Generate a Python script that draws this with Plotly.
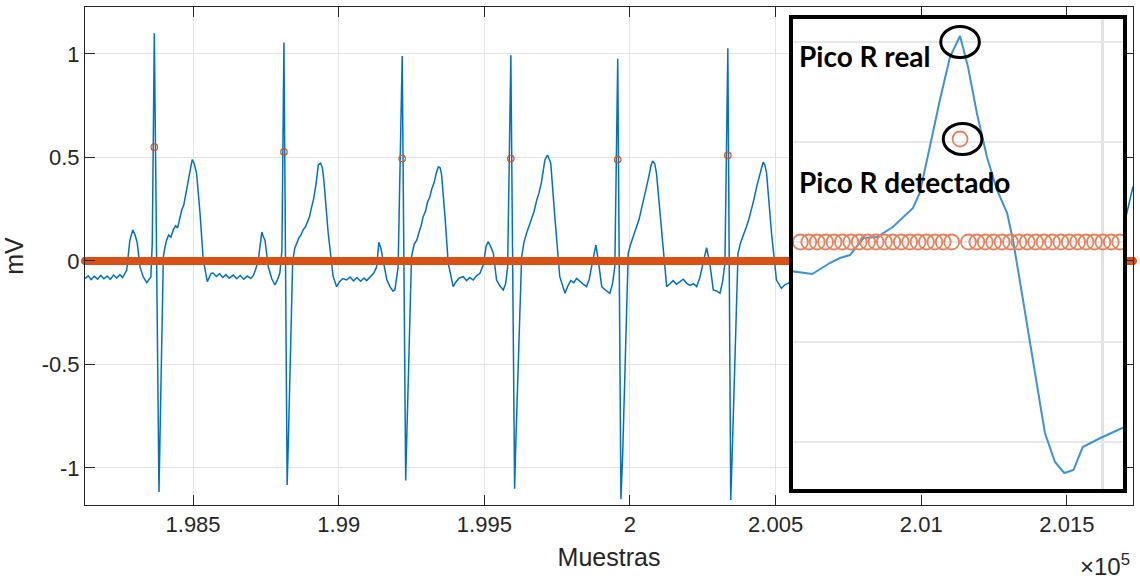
import numpy as np
import plotly.graph_objects as go

# ---------------------------------------------------------------- data
# ECG trace: sample index and amplitude (mV); one wave segment per line
ecg_samples = [
    198129, 198140, 198150, 198161, 198172, 198183, 198194, 198205, 198216, 198227, 198238, 198249, 198258, 198266,
    198272, 198283, 198293, 198301, 198308, 198318, 198329, 198341, 198355, 198360, 198367, 198383, 198386, 198398,
    198404, 198409, 198416, 198424, 198432, 198440, 198447, 198455, 198461, 198468, 198476, 198484, 198490, 198497, 198504, 198512, 198524, 198535, 198549,
    198556, 198562, 198569, 198580, 198591, 198602, 198613, 198624, 198638, 198650, 198662, 198674, 198686, 198698, 198707, 198715,
    198724, 198736, 198742, 198747, 198758, 198770, 198781, 198790, 198798, 198805, 198812, 198823, 198827, 198842,
    198849, 198856, 198863, 198870, 198878, 198886, 198893, 198900, 198907, 198914, 198922, 198930, 198938, 198944, 198949, 198964, 198981, 198993,
    199003, 199014, 199027, 199039, 199051, 199063, 199075, 199087, 199096, 199108, 199120,
    199130, 199138, 199145, 199153, 199165, 199176, 199186, 199193, 199204, 199218, 199230, 199233, 199250,
    199259, 199268, 199276, 199283, 199290, 199298, 199305, 199313, 199320, 199328, 199335, 199342, 199348, 199353, 199365, 199376, 199393,
    199403, 199414, 199428, 199439, 199450, 199462, 199473, 199485, 199496,
    199506, 199513, 199520, 199531, 199542, 199553, 199565, 199573, 199580, 199591, 199604, 199607, 199628,
    199636, 199645, 199653, 199662, 199671, 199680, 199688, 199696, 199702, 199708, 199717, 199728, 199742, 199759, 199777,
    199787, 199797, 199807, 199817, 199828, 199839, 199851, 199860, 199868,
    199883, 199891, 199903, 199915, 199931, 199940, 199948, 199958, 199969, 199975, 199994,
    200002, 200010, 200017, 200023, 200031, 200040, 200048, 200057, 200065, 200072, 200078, 200085, 200091, 200109, 200126,
    200137, 200148, 200160, 200171, 200183, 200195, 200206, 200218, 200229, 200240,
    200251, 200263, 200274, 200286, 200297, 200309, 200318, 200326, 200336, 200346, 200351, 200371,
    200379, 200387, 200394, 200400, 200408, 200418, 200426, 200435, 200443, 200450, 200457, 200463, 200469, 200486, 200503, 200520,
    200532, 200543, 200555, 200566,
    201699, 201727,
]
ecg_mv = [
    -0.085, -0.072, -0.090, -0.074, -0.088, -0.070, -0.086, -0.073, -0.089, -0.068, -0.082, -0.066, -0.080, -0.060,
    -0.045, 0.100, 0.150, 0.125, 0.090, -0.030, -0.077, -0.105, -0.077, 0.087, 1.100, -1.116, -0.913, 0.020,
    0.070, 0.100, 0.125, 0.115, 0.150, 0.170, 0.160, 0.215, 0.246, 0.270, 0.330, 0.390, 0.440, 0.490, 0.470, 0.425, 0.230, 0.005, -0.100,
    -0.082, -0.060, -0.058, -0.075, -0.062, -0.080, -0.066, -0.083, -0.068, -0.086, -0.070, -0.088, -0.073, -0.085, -0.070, -0.040,
    0.005, 0.140, 0.115, 0.100, -0.027, -0.085, -0.116, -0.090, -0.058, 0.050, 1.055, -1.082, -0.880, 0.000,
    0.060, 0.085, 0.110, 0.125, 0.150, 0.165, 0.190, 0.215, 0.260, 0.300, 0.370, 0.464, 0.472, 0.450, 0.390, 0.134, -0.076, -0.124,
    -0.100, -0.085, -0.092, -0.078, -0.096, -0.080, -0.098, -0.082, -0.095, -0.075, -0.060,
    -0.030, 0.090, 0.060, 0.005, -0.090, -0.124, -0.145, -0.140, -0.030, 0.990, -1.060, -0.890, 0.020,
    0.080, 0.100, 0.140, 0.170, 0.214, 0.240, 0.285, 0.310, 0.350, 0.380, 0.425, 0.455, 0.450, 0.420, 0.214, -0.010, -0.124,
    -0.100, -0.082, -0.076, -0.095, -0.080, -0.092, -0.072, -0.060, -0.020,
    0.070, 0.093, 0.075, 0.037, -0.092, -0.120, -0.140, -0.110, -0.030, 0.994, -1.100, -0.930, 0.020,
    0.090, 0.134, 0.170, 0.205, 0.240, 0.295, 0.330, 0.380, 0.430, 0.488, 0.512, 0.472, 0.214, -0.076, -0.156,
    -0.120, -0.095, -0.105, -0.084, -0.100, -0.112, -0.124, -0.090, -0.028,
    0.077, 0.005, -0.124, -0.140, -0.156, -0.110, -0.028, 0.977, -1.151, -0.930, 0.037,
    0.080, 0.110, 0.145, 0.166, 0.200, 0.250, 0.300, 0.359, 0.410, 0.460, 0.483, 0.470, 0.424, 0.134, -0.124,
    -0.110, -0.095, -0.112, -0.100, -0.088, -0.108, -0.118, -0.110, -0.124, -0.080,
    -0.011, 0.064, -0.011, -0.140, -0.145, -0.156, -0.100, -0.011, 1.028, -1.155, -0.930, 0.037,
    0.085, 0.120, 0.150, 0.166, 0.200, 0.250, 0.300, 0.359, 0.405, 0.450, 0.477, 0.465, 0.424, 0.134, -0.092, -0.132,
    -0.115, -0.108, -0.095, -0.100,
    0.190, 0.360,
]

# R-peak detector: detected positions and the value it reports there
r_samples = [198367, 198812, 199218, 199591, 199958, 200336]
r_detected_mv = [0.550, 0.527, 0.495, 0.495, 0.490, 0.510]
sample_start, sample_end = 198129, 201727

# Close-up of one beat (offset in samples from the R peak, mV)
zoom_offsets = [-20.2, -17.6, -15.5, -14.3, -13.1, -11.5, -9.9, -8.0, -5.6, -4.8, -3.6, -2.4,
                -1.2, 0.0, 0.95, 2.0, 3.2, 4.4, 5.6, 6.3, 7.1, 8.3, 10.1, 11.3, 12.4, 13.5,
                14.6, 16.7, 19.3, 19.8]
zoom_mv = [-0.145, -0.160, -0.105, -0.080, -0.065, 0.020, 0.025, 0.075, 0.170, 0.245, 0.475,
           0.710, 0.925, 1.030, 0.875, 0.645, 0.425, 0.260, 0.145, 0.010, -0.190, -0.505,
           -0.955, -1.100, -1.155, -1.140, -1.025, -0.980, -0.930, -0.925]
zoom_det_offsets = list(range(-19, 20))
zoom_det_peak_mv = 0.515

x_tick_vals = [198500, 199000, 199500, 200000, 200500, 201000, 201500]
x_tick_text = ["1.985", "1.99", "1.995", "2", "2.005", "2.01", "2.015"]
y_tick_vals = [-1, -0.5, 0, 0.5, 1]
y_tick_text = ["-1", "-0.5", "0", "0.5", "1"]

# ------------------------------------------------------------ series
det_x = np.arange(sample_start, sample_end + 1)
det_y = np.zeros(det_x.size)
det_y[np.array(r_samples) - sample_start] = r_detected_mv

zoom_det_y = [zoom_det_peak_mv if k == 0 else 0.0 for k in zoom_det_offsets]

BLUE = "#0072BD"
ORANGE = "#D95319"
AX = "#262626"
FONT = "Liberation Sans"

fig = go.Figure()
fig.add_trace(go.Scatter(x=ecg_samples, y=ecg_mv, mode="lines",
                         line=dict(color=BLUE, width=1.5), hoverinfo="skip"))
fig.add_trace(go.Scatter(x=det_x, y=det_y, mode="markers", cliponaxis=False,
                         marker=dict(symbol="circle-open", size=6.5, color=ORANGE,
                                     line=dict(width=1.2, color=ORANGE)),
                         hoverinfo="skip"))

# close-up panel
fig.add_trace(go.Scatter(x=zoom_offsets, y=zoom_mv, mode="lines", xaxis="x2", yaxis="y2",
                         line=dict(color="#3E93D3", width=2), hoverinfo="skip"))
fig.add_trace(go.Scatter(x=zoom_det_offsets, y=zoom_det_y, mode="markers", xaxis="x2", yaxis="y2",
                         marker=dict(symbol="circle-open", size=15, color="#E5825C",
                                     line=dict(width=1.8, color="#E5825C")),
                         hoverinfo="skip"))

# rings around the true and the detected peak
peak_mv = zoom_mv[zoom_offsets.index(0.0)]
ring_rx, ring_ry = 2.3, 0.078
for cx, cy in [(0.0, peak_mv - 0.03), (0.3, zoom_det_peak_mv)]:
    fig.add_shape(type="circle", xref="x2", yref="y2",
                  x0=cx - ring_rx, x1=cx + ring_rx, y0=cy - ring_ry, y1=cy + ring_ry,
                  line=dict(color="black", width=3), layer="above")

fig.add_annotation(text="<b>Pico R real</b>", xref="paper", yref="paper",
                   x=0.6794, y=0.9016, xanchor="left", yanchor="middle", showarrow=False,
                   font=dict(family="Lato", size=28, color="black"))
fig.add_annotation(text="<b>Pico R detectado</b>", xref="paper", yref="paper",
                   x=0.6794, y=0.6486, xanchor="left", yanchor="middle", showarrow=False,
                   font=dict(family="Lato", size=28, color="black"))

fig.add_annotation(text="\u00d710<sup>5</sup>", xref="paper", yref="paper",
                   x=0.999, y=-0.086, xanchor="right", yanchor="top", showarrow=False,
                   font=dict(family=FONT, size=24, color=AX))

axis_common = dict(showline=True, linecolor=AX, linewidth=1, mirror="ticks",
                   ticks="inside", ticklen=10, tickcolor=AX, tickwidth=1,
                   showgrid=True, gridcolor="#e3e3e3", gridwidth=1, zeroline=False,
                   tickfont=dict(family=FONT, size=22, color=AX))

fig.update_layout(
    width=1140, height=581,
    margin=dict(l=85, r=7, t=7, b=76),
    paper_bgcolor="white", plot_bgcolor="white",
    showlegend=False,
    xaxis=dict(range=[sample_start, sample_end], tickmode="array",
               tickvals=x_tick_vals, ticktext=x_tick_text,
               title=dict(text="Muestras", font=dict(family=FONT, size=25, color=AX), standoff=12),
               domain=[0, 1], **axis_common),
    yaxis=dict(range=[-1.179, 1.227], tickmode="array",
               tickvals=y_tick_vals, ticktext=y_tick_text,
               title=dict(text="mV", font=dict(family=FONT, size=25, color=AX), standoff=10),
               domain=[0, 1], **axis_common),
    xaxis2=dict(domain=[0.6756, 0.9905], anchor="y2", range=[-19.88, 19.40],
                tick0=17, dtick=100, showticklabels=False, ticks="",
                showgrid=True, gridcolor="#e2e2e2", gridwidth=2.5, zeroline=False,
                showline=True, linecolor="black", linewidth=4, mirror=True),
    yaxis2=dict(domain=[0.0321, 0.9759], anchor="x2", range=[-1.235, 1.115],
                tick0=0, dtick=0.5, showticklabels=False, ticks="",
                showgrid=True, gridcolor="#e8e8e8", gridwidth=2, zeroline=False,
                showline=True, linecolor="black", linewidth=4, mirror=True),
)

fig.write_html("out.html")
